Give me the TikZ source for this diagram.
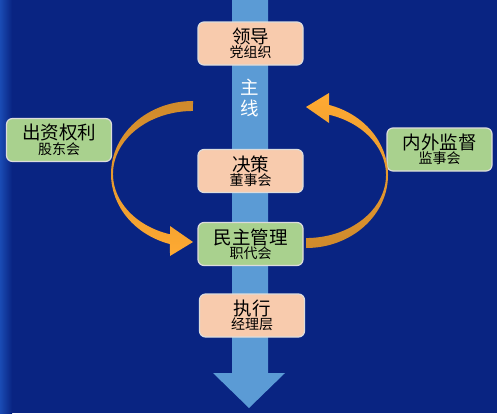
\documentclass[tikz,border=0pt]{standalone}
\usepackage{fontspec}
\setmainfont{Noto Sans CJK SC}
\usetikzlibrary{positioning}
\definecolor{bgblue}{HTML}{092482}
\definecolor{edgeblue}{HTML}{1A4BB4}
\definecolor{barblue}{HTML}{5B9BD5}
\definecolor{peach}{HTML}{F8CBAD}
\definecolor{leaf}{HTML}{A9D18E}
\definecolor{boxline}{HTML}{DCDCDC}
\definecolor{amberdark}{HTML}{CF8A2C}
\definecolor{amberlight}{HTML}{FFAA32}
\newcommand{\bigtext}{\fontsize{18.5}{21}\selectfont}
\newcommand{\smalltext}{\fontsize{14}{17}\selectfont}

\begin{document}
\begin{tikzpicture}[
  x=1pt, y=-1pt,
  % Box styles
  box/.style={
    rectangle,
    rounded corners=6pt,
    draw=boxline,
    line width=1.2pt,
    minimum width=105pt,
    minimum height=43pt,
    inner sep=0pt,
    align=center,
    text=black,
  },
  organ box/.style={
    box,
    fill=peach,
  },
  duty box/.style={
    box,
    fill=leaf,
  },
]

  % Background with a lighter left edge
  \fill[bgblue] (0,0) rectangle (497,413);
  \shade[left color=edgeblue, right color=bgblue] (0,0) rectangle (12,413);
  \useasboundingbox (0,0) rectangle (497,413);

  % Main line: vertical bar with arrowhead
  \fill[barblue] (232,0) -- (268,0) -- (268,373) -- (285,373)
    -- (249,408) -- (213,373) -- (232,373) -- cycle;
  \node[text=white, font=\bigtext, align=center, inner sep=0pt]
    (mainline) at (249.5,98) {主\\线};

  % Boxes on the main line
  \node[organ box] (lead)    at (250.5,43.5)  {\bigtext 领导\\\smalltext 党组织};
  \node[organ box] (decide)  at (250.5,171)   {\bigtext 决策\\\smalltext 董事会};
  \node[duty box]  (manage)  at (250.5,244)   {\bigtext 民主管理\\\smalltext 职代会};
  \node[organ box] (execute) at (252,315.5)   {\bigtext 执行\\\smalltext 经理层};

  % Side boxes
  \node[duty box] (invest)    at (59,140)     {\bigtext 出资权利\\\smalltext 股东会};
  \node[duty box] (supervise) at (439.5,149.5) {\bigtext 内外监督\\\smalltext 监事会};

  % Left curved arrow (top -> down to manage)
  \shade[top color=amberdark, bottom color=amberlight]
    (193,101) arc[start angle=270, end angle=106.3, x radius=82, y radius=73]
    -- (170,256) -- (193,242) -- (170,226) -- (170,234.3)
    arc[start angle=106.7, end angle=270, x radius=80, y radius=63]
    -- cycle;

  % Right curved arrow (bottom -> up to main line)
  \shade[top color=amberlight, bottom color=amberdark]
    (306,248) arc[start angle=90, end angle=-73.7, x radius=82, y radius=73]
    -- (329,93) -- (306,107) -- (329,123) -- (329,114.7)
    arc[start angle=-73.3, end angle=90, x radius=80, y radius=63]
    -- cycle;

\end{tikzpicture}
\end{document}
